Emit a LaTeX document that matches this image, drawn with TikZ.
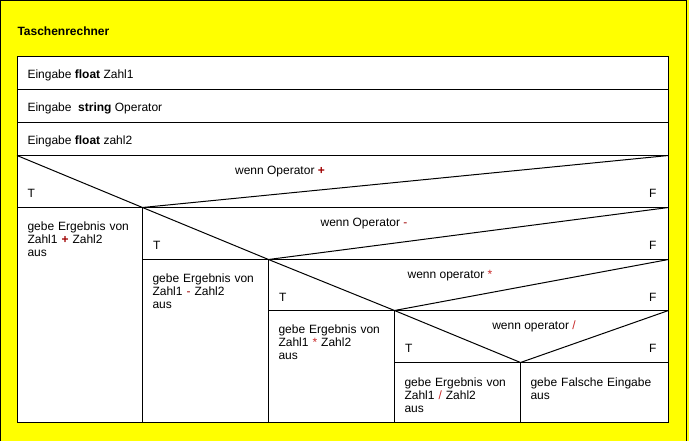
\documentclass[tikz,border=0pt]{standalone}
\usepackage{fontspec}
\setmainfont{Liberation Sans}
\definecolor{opred}{RGB}{160,0,0}
\definecolor{oplight}{RGB}{200,40,40}
\definecolor{nsgelb}{RGB}{255,255,0}

\begin{document}
\begin{tikzpicture}[
         x=1pt,y=-1pt,line width=1pt,
         font=\fontsize{12}{13}\selectfont,
         every node/.style={inner sep=0pt},
         txt/.style={anchor=base west},
         cell/.style={anchor=base west,text width=110pt,align=left},
         cond/.style={anchor=base},
         tf/.style={anchor=base east}
      ]

	      \useasboundingbox (0,0) rectangle (689,441);
	      \fill[nsgelb] (0,0) rectangle (689,441);
	      \draw (0.5,441) -- (0.5,0.5) -- (686,0.5) -- (686,441);

	      \node[txt,font=\fontsize{12}{13}\selectfont\bfseries] (titel) at (17,36) {Taschenrechner};

	      % Struktogramm
	      \draw[fill=white] (17,56.5) rectangle (668.5,422.5);
	      \draw (17,89.5) -- (668.5,89.5);
	      \draw (17,122.5) -- (668.5,122.5);
	      \draw (17,155.5) -- (668.5,155.5);

	      \node[txt] (ein1) at (27,79) {Eingabe \textbf{float} Zahl1};
	      \node[txt] (ein2) at (27,112) {Eingabe~ \textbf{string} Operator};
	      \node[txt] (ein3) at (27,145) {Eingabe \textbf{float} zahl2};

	      % Verzweigungen
	      \foreach \i/\l/\t/\a/\b in {1/17/155.5/142.5/207.5,2/142.5/207.5/268.5/259.5,3/268.5/259.5/394.5/310.5,4/394.5/310.5/520.5/362.5} {
	        \draw (\l,\t) -- (\a,\b) -- (668.5,\t);
	        \draw (\l,\b) -- (668.5,\b);
	        \draw (\a,\b) -- (\a,422.5);
	        \node[txt] (T\i) at (\l+10,\t+42) {T};
	        \node[tf] (F\i) at (657,\t+42) {F};
	      }

	      \node[cond] (wenn1) at (280,175) {wenn Operator \textcolor{opred}{\textbf{+}}};
	      \node[cond] (wenn2) at (364,227) {wenn Operator \textcolor{opred}{-}};
	      \node[cond] (wenn3) at (450,279) {wenn operator \textcolor{oplight}{*}};
	      \node[cond] (wenn4) at (534,330) {wenn operator \textcolor{oplight}{/}};

	      % Ausgaben
	      \node[cell] (aus1) at (27,231) {gebe Ergebnis von\\Zahl1 \textcolor{opred}{\textbf{+}} Zahl2\\aus};
	      \node[cell] (aus2) at (152,283) {gebe Ergebnis von\\Zahl1 \textcolor{opred}{-} Zahl2\\aus};
	      \node[cell] (aus3) at (278,334) {gebe Ergebnis von\\Zahl1 \textcolor{oplight}{*} Zahl2\\aus};
	      \node[cell] (aus4) at (404,386) {gebe Ergebnis von\\Zahl1 \textcolor{oplight}{/} Zahl2\\aus};
	      \node[cell,text width=135pt] (falsch) at (530,386) {gebe Falsche Eingabe\\aus};

	\end{tikzpicture}
\end{document}
